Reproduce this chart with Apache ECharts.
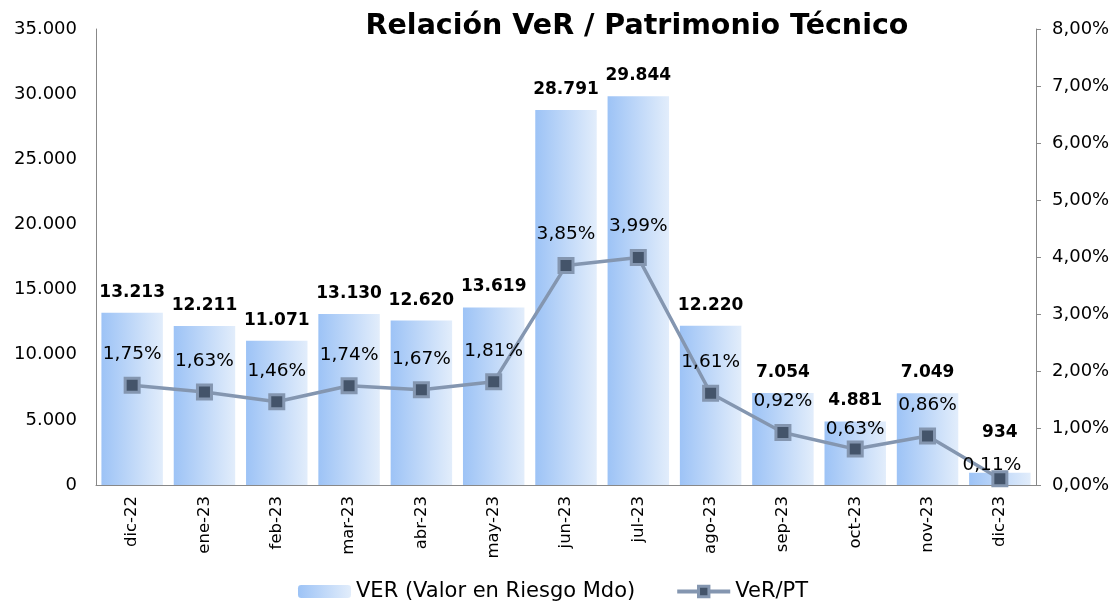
<!DOCTYPE html>
<html>
<head>
    <meta charset="utf-8"/>
    <title>Relación VeR / Patrimonio Técnico</title>
    <script src="https://cdn.jsdelivr.net/npm/echarts@6/dist/echarts.min.js"></script>
</head>
<body style="margin:0;background:#fff">
<div id="chart" style="width:1120px;height:608px"></div>
<script type="text/javascript">
    var months = ['dic-22', 'ene-23', 'feb-23', 'mar-23', 'abr-23', 'may-23', 'jun-23', 'jul-23', 'ago-23', 'sep-23', 'oct-23', 'nov-23', 'dic-23'];
    var verValues = [13213, 12211, 11071, 13130, 12620, 13619, 28791, 29844, 12220, 7054, 4881, 7049, 934];
    var ratioValues = [1.75, 1.63, 1.46, 1.74, 1.67, 1.81, 3.85, 3.99, 1.61, 0.92, 0.63, 0.86, 0.11];

    function miles(v) {
        return String(v).replace(/\B(?=(\d{3})+(?!\d))/g, '.');
    }
    function pct(v) {
        return v.toFixed(2).replace('.', ',') + '%';
    }

    var font = 'DejaVu Sans';
    var last = months.length - 1;

    // algunas etiquetas estan movidas para no chocar (como en excel)
    var barData = verValues.map(function (v, i) {
        return i === last ? {value: v, label: {distance: 32}} : v;
    });
    var lineData = ratioValues.map(function (v, i) {
        if (i === last) return {value: v, label: {distance: -4, offset: [-8, 0]}};
        if (i === 10) return {value: v, label: {distance: 2}};
        return v;
    });

    var myChart = echarts.init(document.getElementById('chart'), null, {renderer: 'canvas'});

    var option = {
        animation: false,
        textStyle: {fontFamily: font},
        title: {
            text: 'Relación VeR / Patrimonio Técnico',
            left: 632, top: 7, textAlign: 'center',
            textStyle: {fontSize: 28.5, fontWeight: 'bold', color: '#000', fontFamily: font}
        },
        grid: {left: 96, right: 84, top: 29, bottom: 123},
        legend: {
            bottom: 1, left: 293, itemGap: 40, itemWidth: 53, itemHeight: 13,
            textStyle: {fontSize: 21, color: '#000', fontFamily: font},
            data: [
                'VER (Valor en Riesgo Mdo)',
                {name: 'VeR/PT', lineStyle: {width: 4}, itemStyle: {borderWidth: 3}}
            ]
        },
        xAxis: {
            type: 'category', data: months,
            axisLine: {lineStyle: {color: '#888'}},
            axisTick: {show: false},
            axisLabel: {rotate: 90, fontSize: 16.5, color: '#000', margin: 11}
        },
        yAxis: [{
            type: 'value', min: 0, max: 35000, interval: 5000,
            axisLine: {show: true, lineStyle: {color: '#888'}},
            axisTick: {show: false},
            splitLine: {show: false},
            axisLabel: {fontSize: 18, color: '#000', margin: 19, formatter: function (v) { return miles(v); }}
        }, {
            type: 'value', min: 0, max: 8, interval: 1, position: 'right',
            axisLine: {show: true, lineStyle: {color: '#888'}},
            axisTick: {show: true, length: 5, lineStyle: {color: '#888'}},
            splitLine: {show: false},
            axisLabel: {fontSize: 18, color: '#000', margin: 16, formatter: pct}
        }],
        series: [{
            name: 'VER (Valor en Riesgo Mdo)', type: 'bar', data: barData,
            barCategoryGap: '15%',
            itemStyle: {
                color: new echarts.graphic.LinearGradient(0, 0, 1, 0, [
                    {offset: 0, color: '#9dc3f6'},
                    {offset: 1, color: '#e2edfb'}
                ])
            },
            label: {
                show: true, position: 'top', distance: 12, fontSize: 17, fontWeight: 'bold', color: '#000',
                formatter: function (p) { return miles(p.value); }
            }
        }, {
            name: 'VeR/PT', type: 'line', yAxisIndex: 1, data: lineData,
            symbol: 'rect', symbolSize: 14,
            lineStyle: {color: '#8496b0', width: 3.5},
            itemStyle: {color: '#44546a', borderColor: '#8496b0', borderWidth: 3},
            label: {
                show: true, position: 'top', distance: 13, fontSize: 18.5, color: '#000',
                formatter: function (p) { return pct(p.value); }
            },
            z: 5
        }]
    };

    myChart.setOption(option);
</script>
</body>
</html>
